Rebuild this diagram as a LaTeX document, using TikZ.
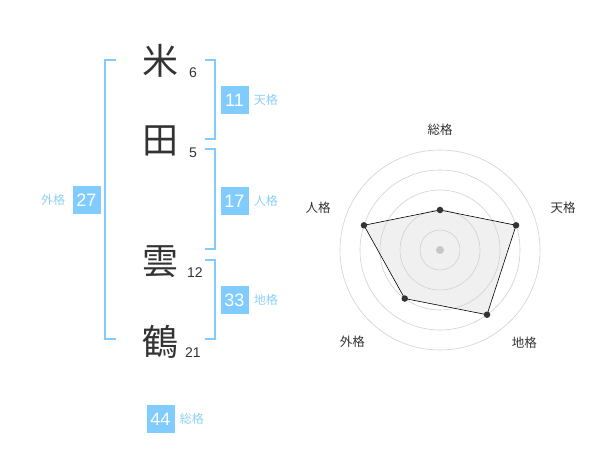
\documentclass[tikz,border=0pt]{standalone}
\usepackage{fontspec}
\setmainfont{Liberation Sans}
\newfontfamily\jpfont{Noto Sans CJK JP}
\usepackage{tikz}
\usetikzlibrary{positioning}
\definecolor{skyblue}{RGB}{128,204,255}
\definecolor{skylabel}{RGB}{140,208,250}

\begin{document}
\begin{tikzpicture}[
      x=1pt,y=-1pt,
      kanji/.style={
         inner sep=0pt,
         text=black!80,
         font=\jpfont\fontsize{36}{36}\selectfont
      },
      strokes/.style={
         inner sep=0pt,
         text=black!80,
         font=\fontsize{14}{14}\selectfont
      },
      kakubox/.style={
         rectangle,
         fill=skyblue,
         text=white,
         minimum size=28pt,
         inner sep=0pt,
         font=\fontsize{18}{18}\selectfont
      },
      kakulabel/.style={
         inner sep=0pt,
         text=skylabel,
         font=\jpfont\fontsize{12}{12}\selectfont
      },
      bracket/.style={draw=skyblue,line width=1.5pt},
      ring/.style={draw=black!18,line width=0.6pt},
      axislabel/.style={inner sep=0pt,text=black!80,font=\jpfont\fontsize{12.5}{13}\selectfont},
      point/.style={circle,fill=black!80,inner sep=0pt,minimum size=6.5pt}
    ]
    \useasboundingbox (0,0) rectangle (600,470);
    % name column
    \node (kome)  [kanji] at (160,61)  {米};
    \node (ta)    [kanji] at (160,141) {田};
    \node (kumo)  [kanji] at (160,262) {雲};
    \node (tsuru) [kanji] at (160,342) {鶴};
    \node (n1) [strokes] at (193,73)  {6};
    \node (n2) [strokes] at (193,153) {5};
    \node (n3) [strokes] at (195,273) {12};
    \node (n4) [strokes] at (193,353) {21};
    % brackets
    \draw[bracket] (116,60) -- (105,60) -- (105,339) -- (116,339);
    \draw[bracket] (205,60) -- (215,60) -- (215,139) -- (205,139);
    \draw[bracket] (205,149) -- (215,149) -- (215,249) -- (205,249);
    \draw[bracket] (205,260) -- (215,260) -- (215,339) -- (205,339);
    % boxes
    \node (ten)   [kakubox] at (234.5,100) {11};
    \node (jin)   [kakubox] at (234.5,201) {17};
    \node (chi)   [kakubox] at (234.5,300) {33};
    \node (gai)   [kakubox] at (86.5,200)  {27};
    \node (sou)   [kakubox] at (160.5,419) {44};
    \node (tenl)  [kakulabel,right=5pt of ten] {天格};
    \node (jinl)  [kakulabel,right=5pt of jin] {人格};
    \node (chil)  [kakulabel,right=5pt of chi] {地格};
    \node (soul)  [kakulabel,right=5pt of sou] {総格};
    \node (gail)  [kakulabel,left=7pt of gai]  {外格};
    % radar
    \begin{scope}[shift={(440,250)},y=1pt]
      \foreach \a/\r/\n in {90/40/ps,18/80/pt,-54/80/pc,-126/60/pg,162/80/pj}
        \coordinate (\n) at (\a:\r);
      \fill[black!6] (ps) -- (pt) -- (pc) -- (pg) -- (pj) -- cycle;
      \foreach \r in {20,40,...,100}
        \draw[ring] (0,0) circle (\r);
      \fill[black!22] (0,0) circle (4);
      \draw[line width=0.6pt] (ps) -- (pt) -- (pc) -- (pg) -- (pj) -- cycle;
      \foreach \n in {ps,pt,pc,pg,pj}
        \node[point] at (\n) {};
      \node (ls) [axislabel] at (90:120)   {総格};
      \node (lt) [axislabel] at (18.8:130) {天格};
      \node (lc) [axislabel] at (-47.6:125) {地格};
      \node (lg) [axislabel] at (-133.7:127) {外格};
      \node (lj) [axislabel] at (161:129)  {人格};
    \end{scope}
\end{tikzpicture}
\end{document}
